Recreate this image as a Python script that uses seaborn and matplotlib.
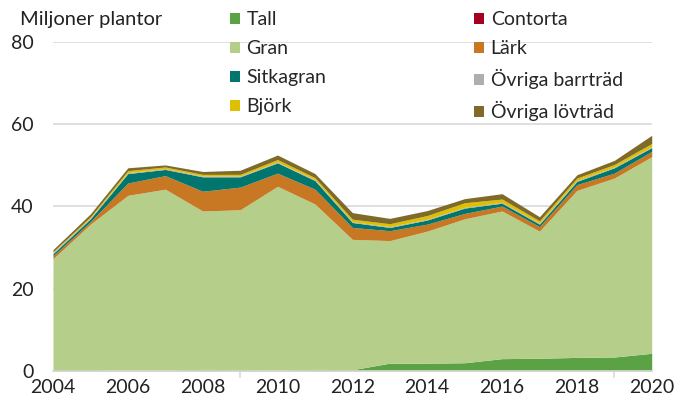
import pandas as pd
import seaborn as sns
import matplotlib.pyplot as plt

years = list(range(2004, 2021))

tall = [0.3, 0.3, 0.2, 0.2, 0.4, 0.3, 0.2, 0.4, 0.3, 1.9, 1.9, 2.0, 3.0, 3.1, 3.3, 3.4, 4.3]
contorta = [0.0] * 17
gran = [27.0, 35.4, 42.5, 44.0, 38.5, 38.9, 44.7, 40.2, 31.7, 29.8, 32.1, 35.0, 35.9, 30.9, 40.6, 43.5, 47.8]
lark = [0.7, 0.6, 3.0, 3.3, 4.8, 5.5, 3.2, 3.6, 2.9, 2.4, 1.7, 1.3, 1.2, 1.1, 1.4, 1.2, 1.3]
sitkagran = [0.5, 0.7, 2.3, 1.5, 3.5, 2.5, 2.5, 2.1, 1.2, 0.8, 1.0, 1.3, 0.7, 0.6, 0.8, 1.3, 0.9]
ovr_barr = [0.3, 0.2, 0.2, 0.2, 0.2, 0.2, 0.2, 0.2, 0.2, 0.2, 0.2, 0.2, 0.2, 0.2, 0.2, 0.2, 0.2]
bjork = [0.2, 0.3, 0.5, 0.4, 0.4, 0.4, 0.6, 0.5, 0.6, 0.7, 0.9, 1.1, 0.8, 0.6, 0.6, 0.6, 0.8]
ovr_lov = [0.5, 0.7, 0.7, 0.5, 0.7, 1.0, 1.1, 1.0, 1.6, 1.3, 1.2, 1.0, 1.3, 1.0, 0.8, 1.0, 2.0]

labels = ["Tall", "Contorta", "Gran", "Lärk", "Sitkagran", "Övriga barrträd", "Björk", "Övriga lövträd"]
colors = ["#5BA244", "#A50021", "#B5CF8A", "#C87722", "#00766F", "#AEAEAE", "#DEC000", "#7F6A2A"]

df = pd.DataFrame(
    {"Tall": tall, "Contorta": contorta, "Gran": gran, "Lärk": lark,
     "Sitkagran": sitkagran, "Övriga barrträd": ovr_barr, "Björk": bjork,
     "Övriga lövträd": ovr_lov},
    index=years,
)

sns.set_theme(style="white")
plt.rcParams["font.family"] = ["Lato", "DejaVu Sans"]

fig = plt.figure(figsize=(6.75, 4.07), dpi=100)
ax = fig.add_axes([0.0785, 0.0885, 0.887, 0.8085])

polys = ax.stackplot(df.index, [df[c] for c in labels], colors=colors, labels=labels, linewidth=0)

ax.set_xlim(2004, 2020)
ax.set_ylim(0, 80)
ax.set_yticks([0, 20, 40, 60, 80])
ax.yaxis.grid(True, color="#D9D9D9", linewidth=1.2)
ax.set_axisbelow(True)
for s in ["top", "right", "left"]:
    ax.spines[s].set_visible(False)
ax.spines["bottom"].set_color("#D9D9D9")
ax.spines["bottom"].set_linewidth(1.2)

ax.set_xticks(range(2004, 2021, 2))
ax.set_xticks([2004, 2009, 2014, 2019], minor=True)
ax.tick_params(axis="x", which="major", length=0, pad=6, labelsize=14, colors="#222222")
ax.tick_params(axis="x", which="minor", length=5, width=1.2, color="#D9D9D9", bottom=True)
ax.tick_params(axis="y", length=0, pad=14, labelsize=14, colors="#222222")

fig.text(20 / 675, 1 - 20 / 407, "Miljoner plantor", fontsize=14.5, color="#222222",
         ha="left", va="center")

handles = {l: p for l, p in zip(labels, polys)}
order = ["Tall", "Gran", "Sitkagran", "Björk", "Contorta", "Lärk", "Övriga barrträd", "Övriga lövträd"]
fig.legend([handles[o] for o in order], order, ncol=2, frameon=False,
           loc="upper left", bbox_to_anchor=(230 / 675, 1 - 11 / 407),
           fontsize=14, handlelength=0.5, handleheight=0.5, handletextpad=0.35,
           columnspacing=7.6, labelspacing=0.62, borderaxespad=0, borderpad=0)

fig.savefig("out.png", dpi=100)
